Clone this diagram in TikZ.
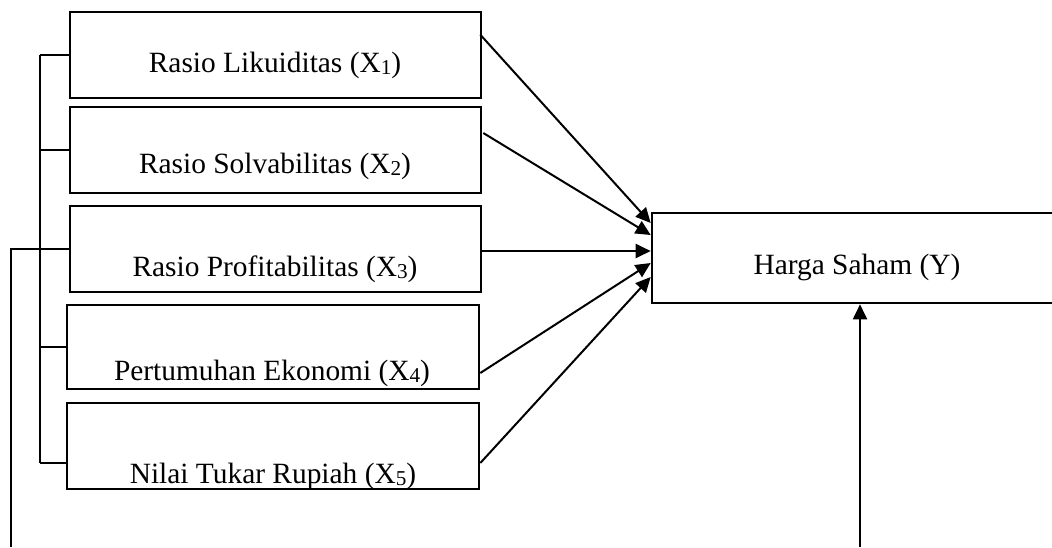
\documentclass[tikz,border=0pt]{standalone}
\usepackage{fontspec}
\setmainfont{Liberation Serif}
\usetikzlibrary{arrows.meta,calc}
\newcommand\sbsc[1]{\raisebox{-1pt}{\fontsize{10.6}{12}\selectfont #1}}
\begin{document}
\begin{tikzpicture}[x=0.5pt,y=-0.5pt,
  varbox/.style={draw,line width=1.3pt,rectangle,inner sep=0pt,minimum height=#1*0.5pt},
  lbl/.style={anchor=base,inner sep=0pt,font=\fontsize{14.7}{17}\selectfont},
  conn/.style={line width=1pt},
  arr/.style={line width=1pt,-{Triangle[length=7.5pt,width=7pt]}}]
\useasboundingbox (0,0) rectangle (1052,547);
% boxes
\node[varbox=86,minimum width=205.5pt] (b1) at (275.5,55) {};
\node[varbox=86,minimum width=205.5pt] (b2) at (275.5,150) {};
\node[varbox=86,minimum width=205.5pt] (b3) at (275.5,249) {};
\node[varbox=84,minimum width=206pt] (b4) at (273,347) {};
\node[varbox=86,minimum width=206pt] (b5) at (273,446) {};
\node[varbox=90,minimum width=224pt] (Y) at (876,258) {};
% labels
\node[lbl] (t1) at (275,72) {Rasio Likuiditas (X\sbsc{1})};
\node[lbl] (t2) at (275,173) {Rasio Solvabilitas (X\sbsc{2})};
\node[lbl] (t3) at (275,276) {Rasio Profitabilitas (X\sbsc{3})};
\node[lbl] (t4) at (272,380) {Pertumuhan Ekonomi (X\sbsc{4})};
\node[lbl] (t5) at (273,483) {Nilai Tukar Rupiah (X\sbsc{5})};
\node[lbl] (ty) at (857,274) {Harga Saham (Y)};
% bracket
\coordinate (bt) at (40,55);
\coordinate (bb) at (40,463);
\coordinate (lb) at (11,547);
\coordinate (bot) at (860,547);
\draw[conn] (bt) -- (bb);
\draw[conn] (bt) -- (b1.west);
\draw[conn] (bt |- b2.west) -- (b2.west);
\draw[conn] (bt |- b3.west) -- (b3.west);
\draw[conn] (bt |- b4.west) -- (b4.west);
\draw[conn] (bb) -- (bb -| b5.west);
\draw[conn] (lb) |- (b3.west);
% arrows
\draw[arr] ([shift={(-2,24)}]b1.north east) -- ([yshift=17.5pt]Y.west);
\draw[arr] ([shift={(1,-17)}]b2.east) -- ([yshift=11.5pt]Y.west);
\draw[arr] ([shift={(-2,2)}]b3.east) -- ([yshift=3.5pt]Y.west);
\draw[arr] ([yshift=-13pt]b4.east) -- ([yshift=-2.5pt]Y.west);
\draw[arr] ([yshift=-8.5pt]b5.east) -- ([yshift=-9.5pt]Y.west);
\draw[arr] (bot) -- (bot |- Y.south);
\end{tikzpicture}
\end{document}
